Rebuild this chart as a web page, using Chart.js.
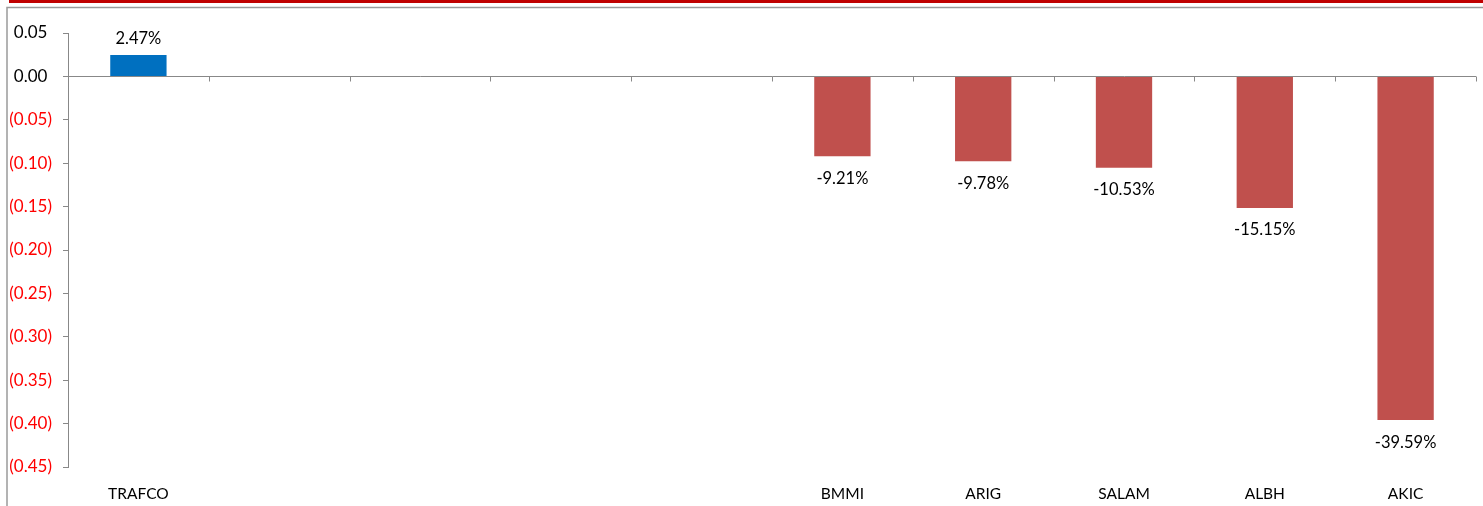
<!DOCTYPE html>
<html>
<head>
<meta charset="utf-8">
<script src="https://cdn.jsdelivr.net/npm/chart.js@4"></script>
<style>
  html, body { margin: 0; padding: 0; background: #fff; }
  #wrap { position: relative; width: 1483px; height: 506px; }
</style>
</head>
<body>
<div id="wrap"><canvas id="perf"></canvas></div>
<script>
var labels = ['TRAFCO', '', '', '', '', 'BMMI', 'ARIG', 'SALAM', 'ALBH', 'AKIC'];
var changes = [0.0247, null, null, null, null, -0.0921, -0.0978, -0.1053, -0.1515, -0.3959];
var pctLabels = ['2.47%', '', '', '', '', '-9.21%', '-9.78%', '-10.53%', '-15.15%', '-39.59%'];

var FONT = 'Lato, "Open Sans", sans-serif';

// frame, zero-line ticks and value labels
var decor = {
  id: 'decor',
  beforeDraw: function (chart) {
    var c = chart.ctx;
    c.save();
    c.fillStyle = '#C00000';
    c.fillRect(9, 0, chart.width - 9, 3);
    c.strokeStyle = '#9a9a9a';
    c.lineWidth = 1.5;
    c.beginPath();
    c.moveTo(7, chart.height);
    c.lineTo(7, 7.5);
    c.lineTo(chart.width, 7.5);
    c.stroke();
    c.restore();
  },
  afterDatasetsDraw: function (chart) {
    var c = chart.ctx;
    var x = chart.scales.x, y = chart.scales.y;
    var y0 = Math.round(y.getPixelForValue(0)) + 0.5;
    c.save();
    c.strokeStyle = '#888';
    c.lineWidth = 1;
    c.beginPath();
    for (var i = 1; i <= labels.length; i++) {
      var px = Math.round(x.left + i * (x.width / labels.length)) + 0.5;
      c.moveTo(px, y0);
      c.lineTo(px, y0 + 5);
    }
    c.stroke();

    var meta = chart.getDatasetMeta(0);
    c.fillStyle = '#000';
    c.font = '16.5px ' + FONT;
    c.textAlign = 'center';
    meta.data.forEach(function (bar, i) {
      if (changes[i] === null) return;
      if (changes[i] >= 0) {
        c.textBaseline = 'bottom';
        c.fillText(pctLabels[i], bar.x, bar.y - 8);
      } else {
        c.textBaseline = 'top';
        c.fillText(pctLabels[i], bar.x, bar.y + 14);
      }
    });
    c.restore();
  }
};

new Chart(document.getElementById('perf'), {
  type: 'bar',
  data: {
    labels: labels,
    datasets: [{
      data: changes,
      backgroundColor: changes.map(function (v) { return v >= 0 ? '#0070C0' : '#C0504D'; }),
      borderWidth: 0,
      categoryPercentage: 1,
      barPercentage: 0.4
    }]
  },
  options: {
    responsive: true,
    maintainAspectRatio: false,
    animation: false,
    layout: { padding: { top: 33, right: 7, left: 0, bottom: 0 } },
    plugins: { legend: { display: false }, tooltip: { enabled: false } },
    scales: {
      x: {
        grid: { display: false },
        border: { display: false },
        ticks: { color: '#000', font: { family: FONT, size: 15.5 }, padding: 10, maxRotation: 0, autoSkip: false },
        afterFit: function (s) { s.height = 39; }
      },
      y: {
        min: -0.45,
        max: 0.05,
        border: { display: true, color: '#888', width: 1 },
        grid: {
          color: function (ctx) { return ctx.tick && Math.abs(ctx.tick.value) < 1e-9 ? '#888' : 'rgba(0,0,0,0)'; },
          tickColor: '#888',
          tickLength: 5,
          lineWidth: 1
        },
        ticks: {
          stepSize: 0.05,
          padding: 11,
          crossAlign: 'center',
          font: { family: FONT, size: 17 },
          color: function (ctx) { return ctx.tick.value < -1e-9 ? '#FF0000' : '#000'; },
          callback: function (v) {
            if (Math.abs(v) < 1e-9) return '0.00';
            return v < 0 ? '(' + Math.abs(v).toFixed(2) + ')' : v.toFixed(2);
          }
        },
        afterFit: function (s) { s.width = 68; }
      }
    }
  },
  plugins: [decor]
});
</script>
</body>
</html>
